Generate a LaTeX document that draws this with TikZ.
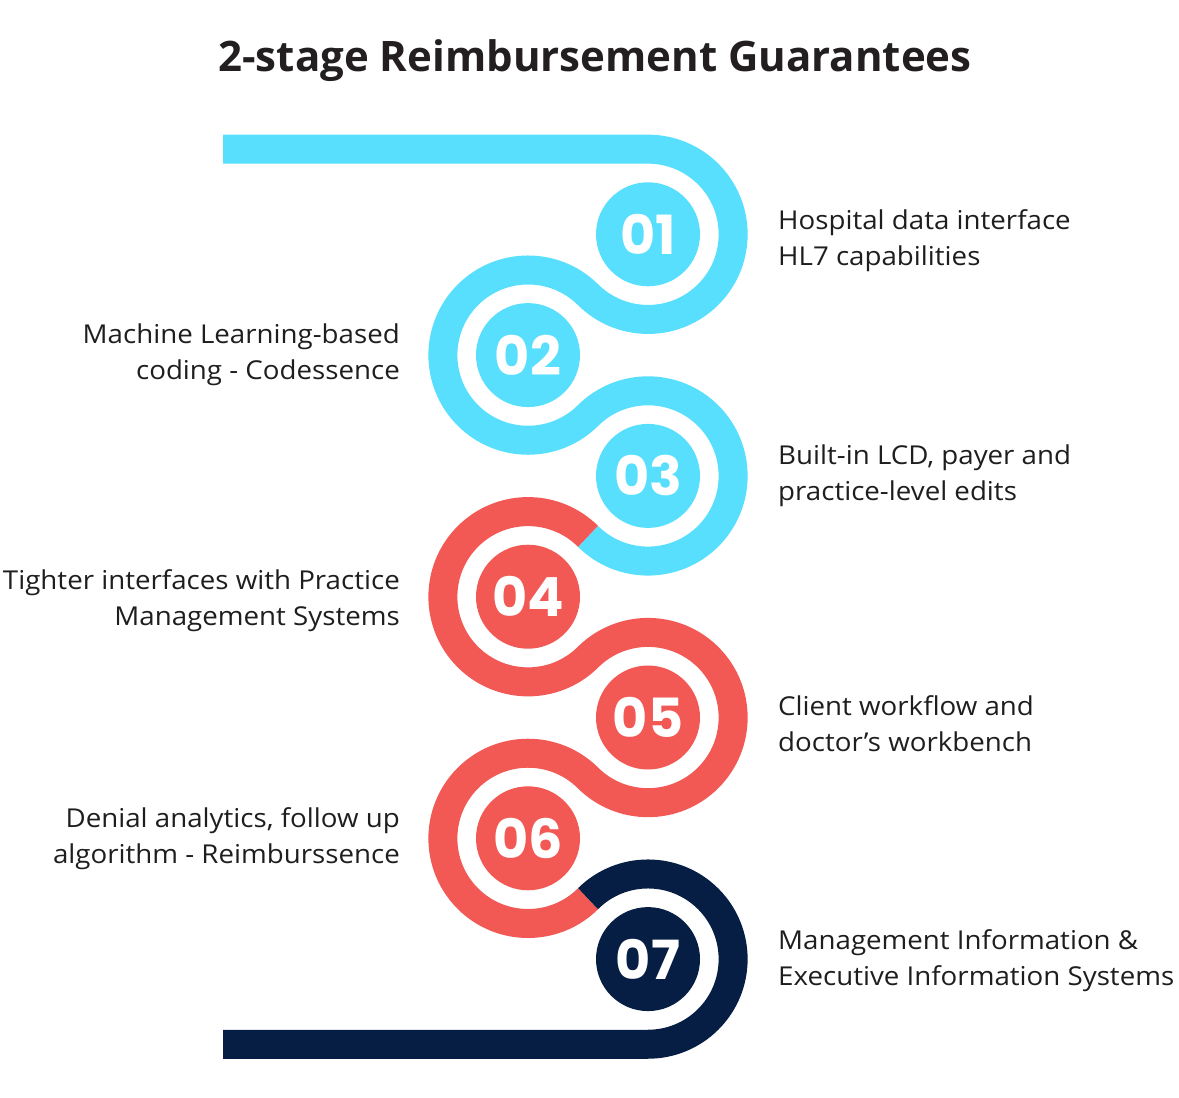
\documentclass[tikz,border=0pt]{standalone}
\usepackage{fontspec}
\setmainfont{Open Sans}
\newfontfamily\labelfont{Open Sans}[FakeStretch=1.065]
\newfontfamily\numfont{Poppins}
\definecolor{cyanband}{RGB}{88,223,253}
\definecolor{redband}{RGB}{242,88,84}
\definecolor{navyband}{RGB}{6,30,68}
\definecolor{titlecol}{RGB}{35,31,32}
\definecolor{textcol}{RGB}{30,30,30}
\begin{document}
\begin{tikzpicture}[x=1pt,y=1pt,
  band/.style={line width=29pt,line cap=butt},
  disc/.style={circle,minimum size=104pt,inner sep=0pt,text=white,font=\numfont\bfseries\fontsize{54}{54}\selectfont},
  rlabel/.style={anchor=west,align=left,inner sep=0pt,text=textcol,font=\labelfont\fontsize{26}{36}\selectfont},
  llabel/.style={anchor=east,align=right,inner sep=0pt,text=textcol,font=\labelfont\fontsize{26}{36}\selectfont}]
\useasboundingbox (0,0) rectangle (1179,-1098);
\def\R{85.14}
% centres
\coordinate (c1) at (648,-234.3);
\coordinate (c2) at (528,-355.1);
\coordinate (c3) at (648,-475.9);
\coordinate (c4) at (528,-596.7);
\coordinate (c5) at (648,-717.5);
\coordinate (c6) at (528,-838.3);
\coordinate (c7) at (648,-959.1);
\coordinate (startT) at (223,-149.16);
\coordinate (topT) at (648,-149.16);
\coordinate (endB) at (223,-1044.24);
\coordinate (m34) at ([shift={(-134.8:\R)}]c3);
\coordinate (m67) at ([shift={(134.8:\R)}]c7);
% bands
\draw[band,cyanband] (startT) -- (topT)
  arc[start angle=90,end angle=-134.8,radius=\R]
  arc[start angle=45.2,end angle=314.8,radius=\R]
  arc[start angle=134.8,end angle=-134.8,radius=\R];
\draw[band,redband] (m34)
  arc[start angle=45.2,end angle=314.8,radius=\R]
  arc[start angle=134.8,end angle=-134.8,radius=\R]
  arc[start angle=45.2,end angle=314.8,radius=\R];
\draw[band,navyband] (m67)
  arc[start angle=134.8,end angle=-90,radius=\R] -- (endB);
% discs
\node[disc,fill=cyanband] (n1) at (c1) {01};
\node[disc,fill=cyanband] (n2) at (c2) {02};
\node[disc,fill=cyanband] (n3) at (c3) {03};
\node[disc,fill=redband] (n4) at (c4) {04};
\node[disc,fill=redband] (n5) at (c5) {05};
\node[disc,fill=redband] (n6) at (c6) {06};
\node[disc,fill=navyband] (n7) at (c7) {07};
% title
\node[text=titlecol,font=\bfseries\fontsize{42}{50}\selectfont,inner sep=0pt] (title) at (595,-61) {2-stage Reimbursement Guarantees};
% labels
\node[rlabel] (l1) at (778,-241) {Hospital data interface\\HL7 capabilities};
\node[llabel] (l2) at (400,-355) {Machine Learning-based\\coding - Codessence};
\node[rlabel] (l3) at (778,-476) {Built-in LCD, payer and\\practice-level edits};
\node[llabel] (l4) at (400,-601) {Tighter interfaces with Practice\\Management Systems};
\node[rlabel] (l5) at (778,-724) {Client workflow and\\doctor’s workbench};
\node[llabel] (l6) at (400,-839) {Denial analytics, follow up\\algorithm - Reimburssence};
\node[rlabel] (l7) at (778,-961) {Management Information \&\\Executive Information Systems};
\end{tikzpicture}
\end{document}
